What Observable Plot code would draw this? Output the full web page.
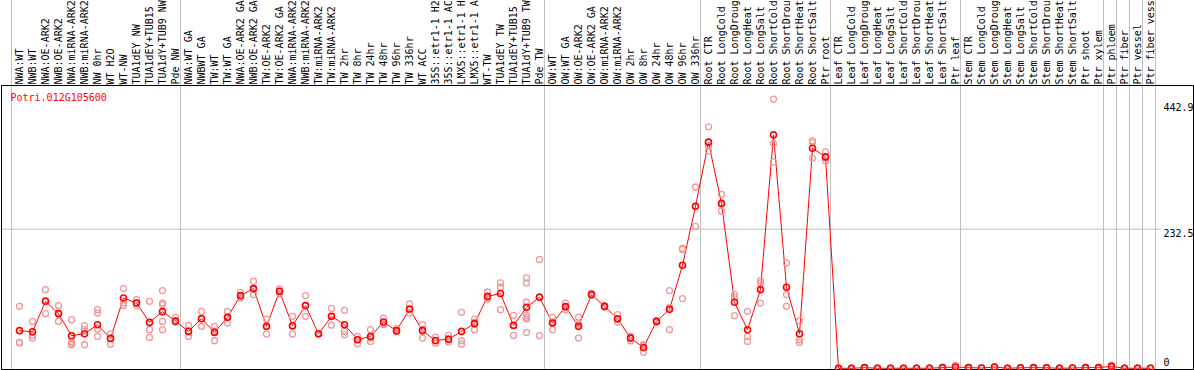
<!DOCTYPE html>
<html>
<head>
<meta charset="utf-8">
<script src="https://cdn.jsdelivr.net/npm/d3@7"></script>
<script src="https://cdn.jsdelivr.net/npm/@observablehq/plot@0.6"></script>
<style>
html, body { margin: 0; padding: 0; background: #fff; }
#chart svg { display: block; }
</style>
</head>
<body>
<div id="chart"></div>
<script>
const title = "Potri.012G105600";

// category labels as they appear in the chart (truncated at 14 characters)
const categories = [
  "NWA:WT", "NWB:WT", "NWA:OE-ARK2", "NWB:OE-ARK2", "NWA:miRNA-ARK2", "NWB:miRNA-ARK2",
  "NW 0hr", "WT H2O", "WT-NW", "TUA1dEY NW", "TUA1dEY+TUB15", "TUA1dY+TUB9 NW", "Pde NW",
  "NWA:WT GA", "NWBWT GA", "TW:WT", "TW:WT GA", "NWA:OE-ARK2 GA", "NWB:OE-ARK2 GA",
  "TW:OE-ARK2", "TW:OE-ARK2 GA", "NWA:miRNA-ARK2", "NWB:miRNA-ARK2", "TW:miRNA-ARK2",
  "TW:miRNA-ARK2", "TW 2hr", "TW 8hr", "TW 24hr", "TW 48hr", "TW 96hr", "TW 336hr",
  "WT ACC", "35S::etr1-1 H2", "35S::etr1-1 AC", "LMX5::etr1-1 H", "LMX5::etr1-1 A",
  "WT-TW", "TUA1dEY TW", "TUA1dEY+TUB15", "TUA1dY+TUB9 TW", "Pde TW",
  "OW:WT", "OW:WT GA", "OW:OE-ARK2", "OW:OE-ARK2 GA", "OW:miRNA-ARK2", "OW:miRNA-ARK2",
  "OW 2hr", "OW 8hr", "OW 24hr", "OW 48hr", "OW 96hr", "OW 336hr",
  "Root CTR", "Root LongCold", "Root LongDroug", "Root LongHeat", "Root LongSalt",
  "Root ShortCold", "Root ShortDrou", "Root ShortHeat", "Root ShortSalt", "Ptr root",
  "Leaf CTR", "Leaf LongCold", "Leaf LongDroug", "Leaf LongHeat", "Leaf LongSalt",
  "Leaf ShortCold", "Leaf ShortDrou", "Leaf ShortHeat", "Leaf ShortSalt", "Ptr leaf",
  "Stem CTR", "Stem LongCold", "Stem LongDroug", "Stem LongHeat", "Stem LongSalt",
  "Stem ShortCold", "Stem ShortDrou", "Stem ShortHeat", "Stem ShortSalt", "Ptr shoot", "Ptr xylem",
  "Ptr phloem", "Ptr fiber", "Ptr vessel", "Ptr fiber vess"
];

// first category index of each separated group (last entry closes the final group)
const groupStarts = [0, 13, 41, 53, 63, 73, 84, 85, 86, 87, 88];

const means = [
  63.1, 61.4, 112.1, 91.5, 54.7, 58.0, 73.1, 50.2, 117.6, 109.2, 76.9, 94.8, 79.1,
  61.9, 83.1, 60.2, 85.3, 121.6, 133.3, 70.3, 128.8, 71.4, 104.9, 58.0, 87.0, 73.1, 48.0,
  53.5, 77.5, 63.1, 99.2, 63.1, 46.8, 49.0, 61.9, 74.8, 120.4, 125.0, 71.9, 102.0, 118.8,
  75.8, 103.2, 70.3, 123.3, 103.7, 83.1, 50.7, 35.1, 78.6, 98.7, 172.3, 270.5,
  377.6, 275.5, 110.4, 64.7, 131.6, 389.8, 135.5, 58.0, 367.5, 353.0,
  0.3, 0.3, 1.5, 0.4, 0.4, 0.4, 0.4, 0.5, 1.5, 2.5,
  1.5, 0.8, 2.5, 0.4, 1.2, 1.5, 1.2, 0.4, 0.8, 1.5, 1.5,
  3.5, 0.4, 0.5, 0.4
];

const reps = [
  [103.7, 42.7, 43.5], [78.6, 55.2, 50.7], [131.6, 91.5, 113.0], [104.9, 78.6, 92.0],
  [81.5, 45.2, 42.3, 39.6], [71.4, 64.7, 39.6], [98.2, 92.5, 65.7, 53.5], [57.4, 40.6, 50.0],
  [133.3, 109.2, 104.9], [114.9, 104.9, 109.6], [112.1, 64.7, 51.9],
  [130.0, 109.2, 106.6, 78.6, 64.7], [85.3, 76.9, 79.5],
  [71.9, 53.5, 62.0], [95.3, 70.3, 83.6], [70.3, 46.3, 62.0], [95.3, 75.8, 85.3],
  [127.1, 117.6, 120.4], [145.5, 123.3, 132.0], [82.5, 57.4, 70.0], [132.6, 125.0, 128.8],
  [87.0, 57.4, 70.0], [121.6, 87.0, 105.0], [58.0, 58.5, 57.4], [100.4, 72.4, 87.0],
  [97.0, 61.9, 56.4], [53.5, 41.3, 49.0], [64.7, 45.2, 51.0], [84.1, 74.8, 73.5],
  [66.4, 61.9, 61.0], [107.6, 92.5, 97.5], [73.1, 50.7, 65.5], [51.9, 42.3, 46.2],
  [55.2, 44.0, 47.8], [93.7, 46.3, 40.6], [82.5, 64.7, 77.2], [127.6, 117.6, 116.0],
  [142.7, 135.5, 98.2], [88.7, 55.2, 71.8], [151.1, 142.7, 110.9, 88.7, 85.3, 82.5, 60.2],
  [181.8, 54.7, 120.0],
  [85.3, 64.7, 77.4], [109.2, 98.2, 102.2], [85.8, 50.7, 74.4], [125.5, 122.1, 122.3],
  [103.7, 105.0, 102.4], [89.8, 77.5, 82.0], [53.5, 46.3, 52.3], [39.6, 27.3, 38.4],
  [79.8, 77.8, 78.2], [130.0, 64.7, 102.0], [200.2, 198.6, 116.6], [302.8, 237.0],
  [403.1, 371.4, 363.0], [290.6, 262.6, 273.0], [123.3, 118.8, 88.2], [95.3, 53.5, 45.2],
  [146.7, 142.7, 109.2], [449.5, 375.2, 344.6], [176.1, 123.3, 103.7], [79.8, 48.0, 43.5],
  [376.9, 350.8, 379.7], [361.3, 346.3, 351.5],
  [0.2, 0.4, 0.3], [0.2, 0.3, 0.4], [1.2, 1.8, 1.5], [0.3, 0.5, 0.4], [0.3, 0.4, 0.5],
  [0.3, 0.5, 0.4], [0.4, 0.3, 0.5], [0.4, 0.6, 0.5], [1.0, 2.2, 1.3], [1.2, 5.0, 1.3],
  [1.2, 1.8, 1.5], [0.6, 1.0, 0.8], [2.0, 3.2, 2.3], [0.3, 0.5, 0.4], [1.0, 1.4, 1.2],
  [1.2, 1.8, 1.5], [1.0, 1.4, 1.2], [0.3, 0.5, 0.4], [0.6, 1.0, 0.8], [1.2, 1.8, 1.5],
  [1.2, 1.8, 1.5],
  [5.5, 2.5, 2.5], [0.3, 0.5, 0.4], [0.4, 0.6, 0.5], [0.3, 0.5, 0.4]
];

const yTicks = [0, 232.5, 442.9];

const meanRows = categories.map((c, i) => ({i, c, v: means[i]}));
const repRows = reps.flatMap((arr, i) => arr.map(v => ({i, v})));

const font = "DejaVu Sans Mono";
const n = categories.length;

const chart = Plot.plot({
  width: 1194,
  height: 370,
  marginTop: 85,
  marginLeft: 1,
  marginRight: 1,
  marginBottom: 1,
  x: {domain: [0, n - 1], range: [19, 19 + 13 * (n - 1)], axis: null},
  y: {domain: [0, 442.9], range: [368, 102.5], axis: null},
  style: {fontFamily: font, fontSize: "10px", background: "#fff", overflow: "hidden"},
  marks: [
    Plot.ruleX(groupStarts, {x: d => d, dx: -8, stroke: "#c0c0c0", strokeOpacity: 1, insetTop: -85}),
    Plot.ruleY([yTicks[1]], {stroke: "#c0c0c0", strokeOpacity: 1, insetRight: 32}),
    Plot.frame({stroke: "#000", strokeOpacity: 1}),
    Plot.line(meanRows, {x: "i", y: "v", stroke: "#ff0000", strokeWidth: 1}),
    Plot.dot(repRows, {x: "i", y: "v", r: 3, stroke: "#ee9999", strokeWidth: 1.3}),
    Plot.dot(meanRows, {x: "i", y: "v", r: 3, stroke: "#ff0000", strokeWidth: 1.6}),
    Plot.text(categories, {
      x: (d, i) => i, text: d => d, frameAnchor: "top", rotate: -90,
      textAnchor: "start", lineAnchor: "middle", dy: -1, fill: "#000",
      fontFamily: font, fontSize: 10
    }),
    Plot.text([title], {
      text: d => d, frameAnchor: "top-left", dx: 9, dy: 8, lineAnchor: "top",
      textAnchor: "start", fill: "#ff0000", fontFamily: font, fontSize: 10
    }),
    Plot.text(yTicks.filter(v => v > 0), {
      y: d => d, text: d => String(d), frameAnchor: "right", dx: -30, dy: 1,
      textAnchor: "start", lineAnchor: "top", fill: "#000", fontFamily: font, fontSize: 10
    }),
    Plot.text(yTicks.filter(v => v === 0), {
      y: d => d, text: d => String(d), frameAnchor: "right", dx: -30, dy: -2.3,
      textAnchor: "start", lineAnchor: "bottom", fill: "#000", fontFamily: font, fontSize: 10
    })
  ]
});

document.getElementById("chart").appendChild(chart);
</script>
</body>
</html>
